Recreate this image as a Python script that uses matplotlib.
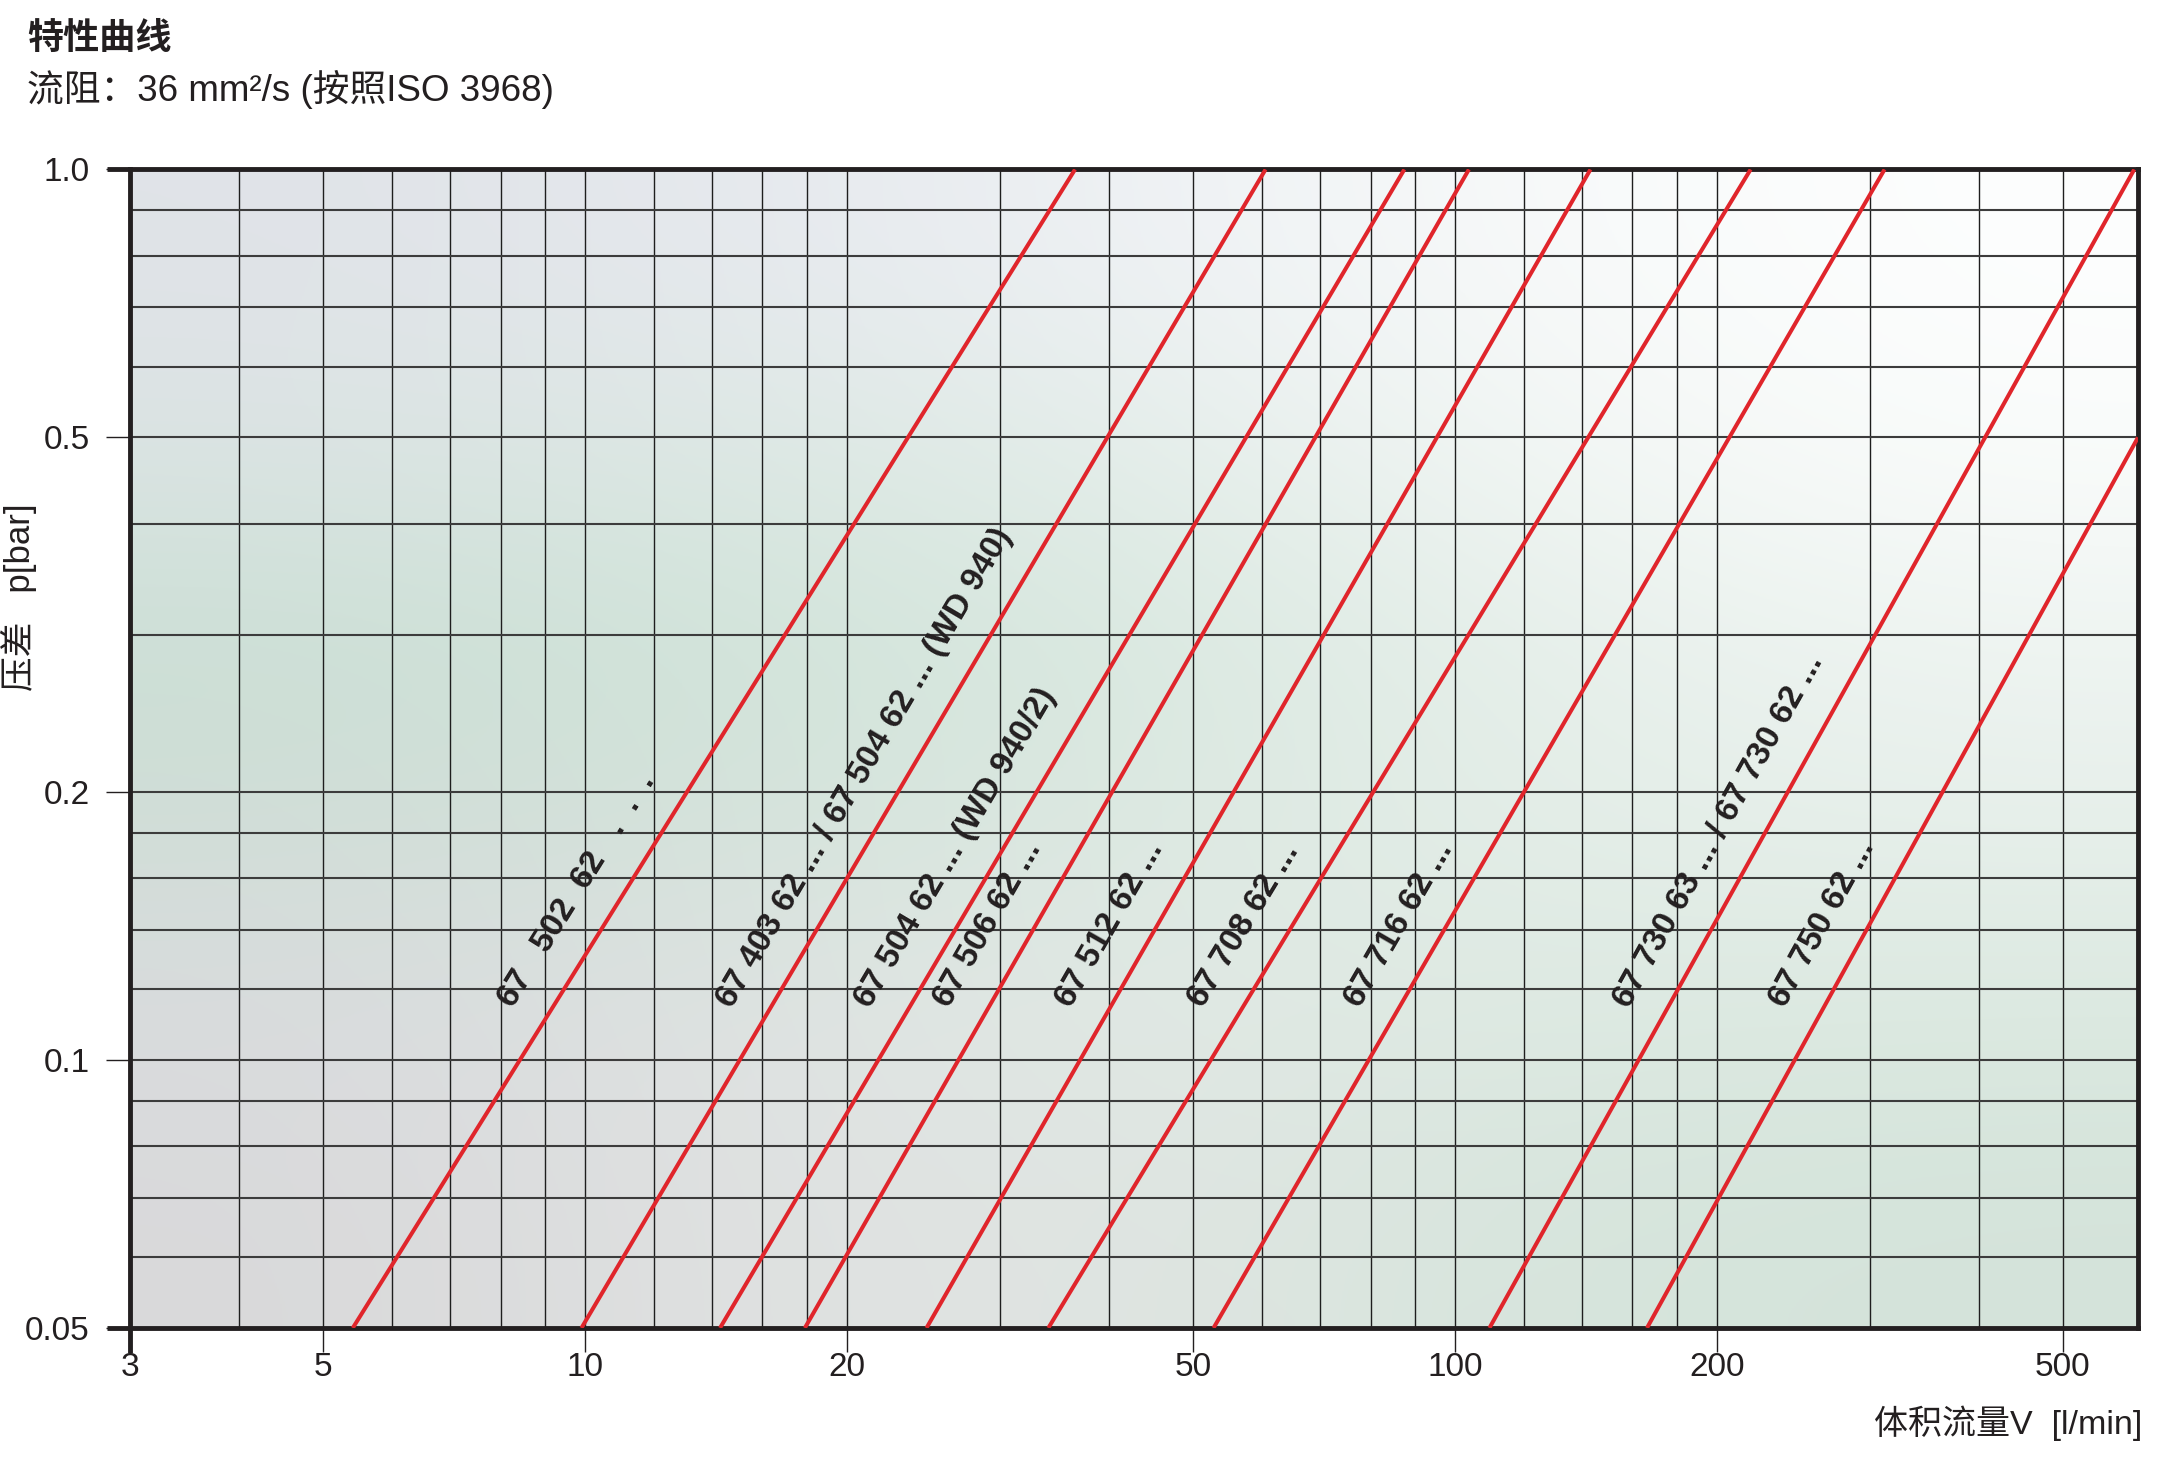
import numpy as np
import matplotlib
matplotlib.use("Agg")
import matplotlib.pyplot as plt
from matplotlib.colors import to_rgb
from matplotlib.ticker import NullLocator

# Achsen / Gitter
x_ticks = [3, 5, 10, 20, 50, 100, 200, 500]
x_tick_labels = ["3", "5", "10", "20", "50", "100", "200", "500"]
x_grid = [4, 5, 6, 7, 8, 9, 10, 12, 14, 16, 18, 20, 30, 40, 50, 60, 70, 80, 90,
          100, 120, 140, 160, 180, 200, 300, 400, 500]
y_ticks = [0.05, 0.1, 0.2, 0.5, 1.0]
y_tick_labels = ["0.05", "0.1", "0.2", "0.5", "1.0"]
y_grid = [0.06, 0.07, 0.08, 0.09, 0.1, 0.12, 0.14, 0.16, 0.18, 0.2, 0.3, 0.4,
          0.5, 0.6, 0.7, 0.8, 0.9]

# Kennlinien: Anfang / Ende (Volumenstrom l/min, Druckdifferenz bar)
linien_namen = [
    "67   502  62   .  .  .",
    "67 403 62 ... / 67 504 62 ... (WD 940)",
    "67 504 62 ... (WD 940/2)",
    "67 506 62 ...",
    "67 512 62 ...",
    "67 708 62 ...",
    "67 716 62 ...",
    "67 730 63 ... / 67 730 62 ...",
    "67 750 62 ...",
]
q_anfang = [5.41, 9.91, 14.3, 17.9, 24.7, 34.1, 52.8, 109.6, 166.3]
p_anfang = [0.05, 0.05, 0.05, 0.05, 0.05, 0.05, 0.05, 0.05, 0.05]
q_ende = [36.6, 60.6, 87.5, 103.8, 143.2, 218.8, 311.9, 604.0, 610.0]
p_ende = [1.0, 1.0, 1.0, 1.0, 1.0, 1.0, 1.0, 1.0, 0.50]

TXT = "#231f20"
ROT = "#e0252b"

plt.rcParams["font.family"] = ["Liberation Sans", "Noto Sans CJK SC"]

fig = plt.figure(figsize=(21.6, 14.61), dpi=100)
pos = [130 / 2160, 1 - 1328 / 1461, 2008 / 2160, 1158.6 / 1461]

# Hintergrund (Farbverlauf)
bg_farben = [
    ["#e0e3e8", "#e6e9ee", "#eef1f4", "#f8fafa", "#fdfefe"],
    ["#dbe4e3", "#dce8e3", "#e3ede9", "#f2f6f4", "#fafcfb"],
    ["#cadfd4", "#cfe3d8", "#d8e8df", "#e6efea", "#eef4f1"],
    ["#d2ddd8", "#d6e3dc", "#dde9e2", "#e4eee8", "#e6efea"],
    ["#dadbde", "#dfe2e2", "#e2e9e5", "#dce9e1", "#dae8df"],
    ["#d9d9da", "#dfe1e1", "#e0e5e2", "#d6e5dc", "#d4e3da"],
]
bg = np.array([[to_rgb(c) for c in row] for row in bg_farben])
ax_bg = fig.add_axes(pos, zorder=0)
ax_bg.imshow(bg, aspect="auto", interpolation="bicubic", extent=[0, 1, 0, 1])
ax_bg.axis("off")

ax = fig.add_axes(pos, zorder=1)
ax.patch.set_alpha(0)
ax.set_xscale("log")
ax.set_yscale("log")
ax.set_xlim(3, 610)
ax.set_ylim(0.05, 1.0)

for v in x_grid:
    ax.axvline(v, color="#1e1e1e", lw=1.0, zorder=1)
for h in y_grid:
    ax.axhline(h, color="#3c3c3c", lw=1.5, zorder=1)

for q0, p0, q1, p1 in zip(q_anfang, p_anfang, q_ende, p_ende):
    ax.plot([q0, q1], [p0, p1], color=ROT, lw=2.9, zorder=3, solid_capstyle="butt")

# Beschriftung parallel zu den Linien
p_text = 0.114
for name, q0, p0, q1, p1 in zip(linien_namen, q_anfang, p_anfang, q_ende, p_ende):
    a = ax.transData.transform((q0, p0))
    b = ax.transData.transform((q1, p1))
    winkel = np.degrees(np.arctan2(b[1] - a[1], b[0] - a[0]))
    t = (np.log10(p_text) - np.log10(p0)) / (np.log10(p1) - np.log10(p0))
    q_text = 10 ** (np.log10(q0) + t * (np.log10(q1) - np.log10(q0)))
    ax.annotate(name, xy=(q_text, p_text), xytext=(-27.4, 0), textcoords="offset points",
                rotation=winkel, rotation_mode="anchor", ha="left", va="baseline",
                fontsize=24, fontweight="bold", color=TXT, zorder=4)

ax.set_xticks(x_ticks, x_tick_labels)
ax.set_yticks(y_ticks, y_tick_labels)
ax.xaxis.set_minor_locator(NullLocator())
ax.yaxis.set_minor_locator(NullLocator())
ax.tick_params(axis="both", which="major", direction="out", length=17, width=1.0,
               color=TXT, labelcolor=TXT, labelsize=24)
ax.tick_params(axis="x", pad=0)
ax.tick_params(axis="y", pad=12)

for s in ax.spines.values():
    s.set_linewidth(3.5)
    s.set_color(TXT)

# verlaengerte Rahmenlinien (1.0, 0.05 und 3)
ext_x = 23 / 2008
ext_y = 25 / 1158.6
ax.plot([-ext_x, 0], [1, 1], transform=ax.transAxes, clip_on=False, lw=3.5, color=TXT,
        solid_capstyle="butt")
ax.plot([-ext_x, 0], [0, 0], transform=ax.transAxes, clip_on=False, lw=3.5, color=TXT,
        solid_capstyle="butt")
ax.plot([0, 0], [0, -ext_y], transform=ax.transAxes, clip_on=False, lw=3.5, color=TXT,
        solid_capstyle="butt")

fig.text(0.0125, 0.9736, "特性曲线", fontsize=26, fontweight="bold", va="center",
         color=TXT, family=["Noto Sans CJK SC"])
fig.text(0.0125, 0.9387, "流阻：36 mm²/s (按照ISO 3968)", fontsize=26.5, va="center",
         color=TXT)
fig.text(0.0088, 0.591, "压差   p[bar]", fontsize=25, rotation=90, ha="center",
         va="center", color=TXT)
fig.text(0.9917, 0.026, "体积流量V  [l/min]", fontsize=24.5, ha="right", va="center",
         color=TXT)

fig.savefig("out.png", dpi=100)
